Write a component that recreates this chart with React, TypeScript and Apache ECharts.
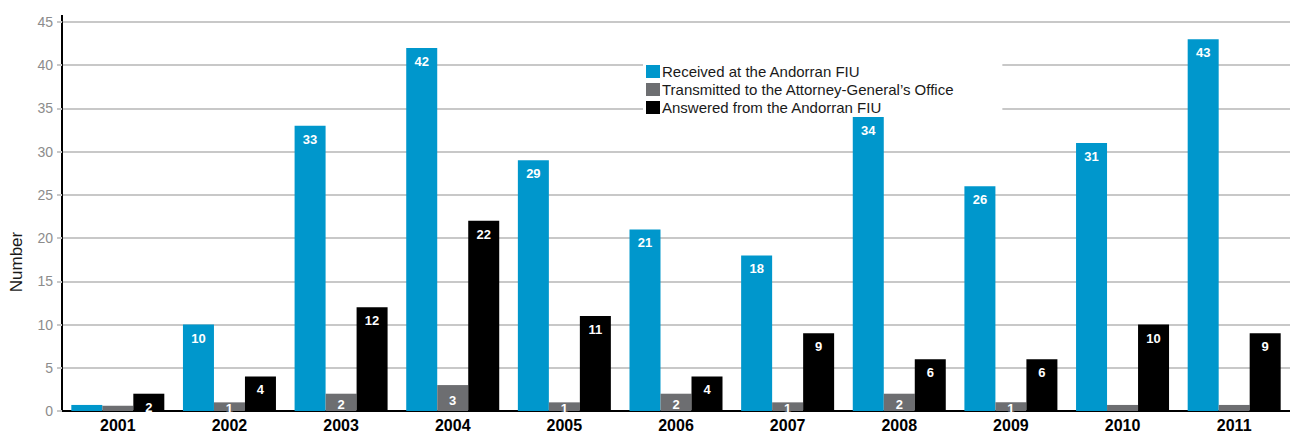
import React, { useEffect, useRef } from "react";
import * as echarts from "echarts";

// Yearly case counts of the Andorran FIU
const years = ["2001", "2002", "2003", "2004", "2005", "2006", "2007", "2008", "2009", "2010", "2011"];
const received = [0.7, 10, 33, 42, 29, 21, 18, 34, 26, 31, 43];
const transmitted = [0.6, 1, 2, 3, 1, 2, 1, 2, 1, 0.7, 0.7];
const answered = [2, 4, 12, 22, 11, 4, 9, 6, 6, 10, 9];
// values under 1 are slivers with no printed label
const labelled = (v: number) => v >= 1;

const seriesNames = [
  "Received at the Andorran FIU",
  "Transmitted to the Attorney-General\u2019s Office",
  "Answered from the Andorran FIU",
];
const colors = ["#0097cc", "#6d6e71", "#000000"];

const FONT = "Liberation Sans, Arial, sans-serif";

const toItems = (arr: number[], position: string, offsetY: number) =>
  arr.map((v) => ({
    value: v,
    label: { show: labelled(v), position, distance: 7, offset: [0, offsetY] },
  }));

export default function App() {
  const ref = useRef<HTMLDivElement>(null);

  useEffect(() => {
    if (!ref.current) return;
    const chart = echarts.init(ref.current, null, { renderer: "svg" });
    const barLabel = {
      color: "#ffffff",
      fontSize: 13,
      fontWeight: "bold" as const,
      fontFamily: FONT,
      formatter: (p: any) => String(Math.round(p.value)),
    };
    chart.setOption({
      animation: false,
      color: colors,
      grid: { left: 62, right: -5, top: 22, bottom: 22 },
      legend: {
        orient: "vertical",
        left: 643,
        top: 62,
        padding: [2, 48, 2, 3],
        backgroundColor: "#ffffff",
        itemWidth: 14,
        itemHeight: 13,
        itemGap: 3,
        icon: "rect",
        textStyle: {
          fontSize: 15,
          color: "#1a1a1a",
          fontFamily: FONT,
          padding: [0, 0, 0, -3],
        },
        data: seriesNames,
      },
      xAxis: {
        type: "category",
        data: years,
        axisTick: { show: false },
        axisLine: { lineStyle: { color: "#000", width: 2 } },
        axisLabel: {
          color: "#000",
          fontSize: 16,
          fontWeight: "bold",
          margin: 6,
          fontFamily: FONT,
        },
      },
      yAxis: {
        type: "value",
        min: 0,
        max: 45,
        interval: 5,
        axisLine: { show: true, lineStyle: { color: "#000", width: 2 } },
        axisTick: { show: true, length: 5, lineStyle: { color: "#c8c8c8", width: 2 } },
        splitLine: { lineStyle: { color: "#c8c8c8", width: 2 } },
        axisLabel: {
          color: "#8c8c8c",
          fontSize: 14,
          margin: 9,
          fontFamily: FONT,
        },
      },
      graphic: [
        {
          type: "text",
          x: 16,
          y: 262,
          rotation: Math.PI / 2,
          style: {
            text: "Number",
            fontSize: 17,
            fill: "#1a1a1a",
            fontFamily: FONT,
            align: "center",
            verticalAlign: "middle",
          },
        },
        {
          type: "line",
          shape: { x1: 62, y1: 15, x2: 62, y2: 23 },
          style: { stroke: "#000", lineWidth: 2 },
        },
      ],
      series: [
        {
          name: seriesNames[0],
          type: "bar",
          barWidth: 31,
          barGap: "0%",
          data: toItems(received, "insideTop", 0),
          label: barLabel,
        },
        {
          name: seriesNames[1],
          type: "bar",
          barWidth: 31,
          barGap: "0%",
          data: toItems(transmitted, "inside", 2),
          label: barLabel,
        },
        {
          name: seriesNames[2],
          type: "bar",
          barWidth: 31,
          barGap: "0%",
          data: toItems(answered, "insideTop", 0),
          label: barLabel,
        },
      ],
    });
    return () => chart.dispose();
  }, []);

  return (
    <div
      ref={ref}
      style={{ position: "fixed", left: 0, top: 0, width: 1290, height: 433, background: "#fff" }}
    />
  );
}
